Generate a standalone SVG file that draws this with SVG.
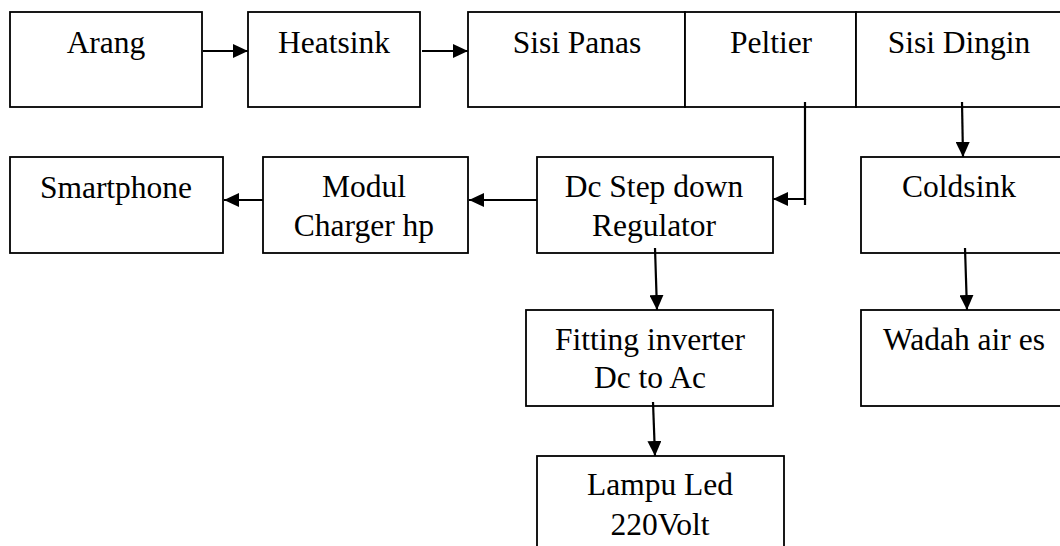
<svg xmlns="http://www.w3.org/2000/svg" width="1060" height="546" viewBox="0 0 1060 546">
<defs>
<style>
.box{fill:#fff;stroke:#000;stroke-width:1.8}
.t{font-family:"Liberation Serif","Times New Roman",serif;font-size:31.5px;fill:#000;text-anchor:middle}
.c{fill:none;stroke:#000;stroke-width:2.2}
</style>
<marker id="ah" viewBox="0 0 15 14" refX="15" refY="7" markerWidth="15" markerHeight="14" markerUnits="userSpaceOnUse" orient="auto">
<path d="M0,0 L15,7 L0,14 Z" fill="#000"/>
</marker>
</defs>
<rect width="1060" height="546" fill="#fff"/>
<g id="arang"><rect class="box" x="10" y="12" width="192" height="95"/><text class="t" x="106" y="53">Arang</text></g>
<g id="heatsink"><rect class="box" x="248" y="12" width="172" height="95"/><text class="t" x="334" y="53">Heatsink</text></g>
<g id="sisi-panas"><rect class="box" x="468" y="12" width="217" height="95"/><text class="t" x="577" y="53">Sisi Panas</text></g>
<g id="peltier"><rect class="box" x="685" y="12" width="171" height="95"/><text class="t" x="771" y="53">Peltier</text></g>
<g id="sisi-dingin"><rect class="box" x="856" y="12" width="210" height="95"/><text class="t" x="959" y="53">Sisi Dingin</text></g>
<g id="smartphone"><rect class="box" x="10" y="157" width="213" height="96"/><text class="t" x="116" y="198">Smartphone</text></g>
<g id="modul"><rect class="box" x="263" y="157" width="205" height="96"/><text class="t" x="364" y="197">Modul</text><text class="t" x="364" y="236">Charger hp</text></g>
<g id="dc-step"><rect class="box" x="537" y="157" width="236" height="96"/><text class="t" x="654" y="197">Dc Step down</text><text class="t" x="654" y="236">Regulator</text></g>
<g id="coldsink"><rect class="box" x="861" y="157" width="205" height="96"/><text class="t" x="959" y="197">Coldsink</text></g>
<g id="fitting"><rect class="box" x="526" y="310" width="247" height="96"/><text class="t" x="650" y="350">Fitting inverter</text><text class="t" x="650" y="388">Dc to Ac</text></g>
<g id="wadah"><rect class="box" x="861" y="310" width="205" height="96"/><text class="t" x="964" y="350">Wadah air es</text></g>
<g id="lampu"><rect class="box" x="537" y="456" width="247" height="100"/><text class="t" x="660" y="495">Lampu Led</text><text class="t" x="660" y="535">220Volt</text></g>
<g id="connectors">
<line class="c" x1="203" y1="51" x2="248" y2="51" marker-end="url(#ah)"/>
<line class="c" x1="422" y1="51" x2="468" y2="51" marker-end="url(#ah)"/>
<polyline class="c" points="805,102 805,199 773,199" marker-end="url(#ah)"/>
<line class="c" x1="805" y1="199" x2="805" y2="205"/>
<line class="c" x1="962" y1="102" x2="963" y2="157" marker-end="url(#ah)"/>
<line class="c" x1="537" y1="200" x2="469" y2="200" marker-end="url(#ah)"/>
<line class="c" x1="263" y1="200" x2="224" y2="200" marker-end="url(#ah)"/>
<line class="c" x1="655" y1="248" x2="657" y2="310" marker-end="url(#ah)"/>
<line class="c" x1="653" y1="402" x2="655" y2="456" marker-end="url(#ah)"/>
<line class="c" x1="965" y1="248" x2="967" y2="310" marker-end="url(#ah)"/>
</g>
</svg>
